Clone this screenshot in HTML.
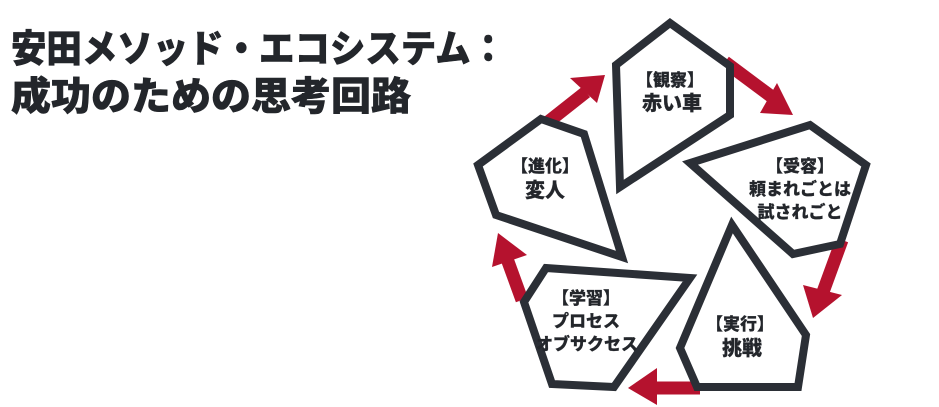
<!DOCTYPE html>
<html><head><meta charset="utf-8"><style>
html,body{margin:0;padding:0;background:#fff;}
svg{display:block;}
text{font-family:"Noto Sans CJK JP","Liberation Sans",sans-serif;font-weight:900;fill:#23262b;stroke:#23262b;stroke-width:0.2;}
</style></head><body>
<svg width="939" height="407" viewBox="0 0 939 407" xmlns="http://www.w3.org/2000/svg">
<rect width="939" height="407" fill="#fff"/>
<text x="11" y="62" font-size="38" textLength="495" lengthAdjust="spacingAndGlyphs" style="stroke-width:0.6">安田メソッド・エコシステム：</text>
<text x="11" y="110" font-size="39" textLength="400" lengthAdjust="spacingAndGlyphs" style="stroke-width:0.6">成功のための思考回路</text>
<g stroke="#b5122e" stroke-width="13" fill="none">
<line x1="548" y1="122" x2="586" y2="92"/>
<line x1="725" y1="62" x2="772" y2="97"/>
<line x1="842" y1="240" x2="823" y2="292"/>
<line x1="700" y1="388" x2="650" y2="388"/>
<line x1="522" y1="300" x2="506" y2="256"/>
</g>
<g fill="#b5122e">
<polygon points="605,75 570,78 597,103"/>
<polygon points="793,115 777,83 760,113"/>
<polygon points="813,318 803,285 842,295"/>
<polygon points="628,388 657,368 657,405"/>
<polygon points="498,233 492,267 527,255"/>
</g>
<g fill="#fff" stroke="#2b2f36" stroke-width="8" stroke-linejoin="miter">
<polygon points="670,23 730,66 730,115 620,187 616,65"/>
<polygon points="810,125 866,165 840,244 793,254 690,163"/>
<polygon points="732,225 806,335 798,387 697,387 680,348"/>
<polygon points="546,268 690,278 614,387 552,384 524,302"/>
<polygon points="541,119 584,134 622,257 496,215 478,165"/>
</g>
<g text-anchor="middle" font-size="17">
<text x="670" y="86">【観察】</text>
<text x="672" y="110" font-size="20">赤い車</text>
<text x="800" y="172">【受容】</text>
<text x="800" y="195">頼まれごとは</text>
<text x="800" y="218">試されごと</text>
<text x="740" y="330">【実行】</text>
<text x="742" y="355" font-size="20">挑戦</text>
<text x="586" y="304">【学習】</text>
<text x="586" y="327">プロセス</text>
<text x="587" y="350">オブサクセス</text>
<text x="545" y="172">【進化】</text>
<text x="545" y="197" font-size="20">変人</text>
</g>
</svg>
</body></html>
